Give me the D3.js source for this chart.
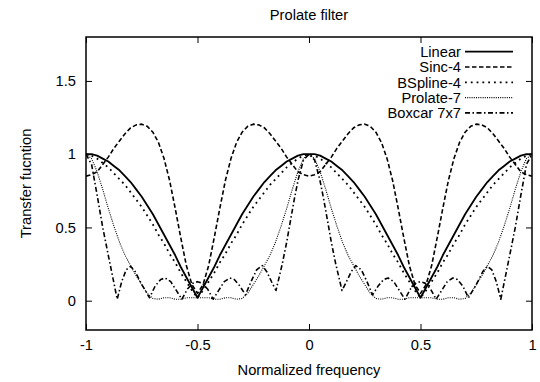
<!DOCTYPE html>
<html>
<head>
<meta charset="utf-8">
<script src="https://cdn.jsdelivr.net/npm/d3@7"></script>
<style>
    body { margin: 0; background: #fff; }
    svg { display: block; font-family: "Liberation Sans", Arial, sans-serif; }
</style>
</head>
<body>
<svg></svg>
<script>
(function() {

    // sample frequencies, step 0.025
    const freq = [
        -1, -0.975, -0.95, -0.925, -0.9, -0.875, -0.85, -0.825, -0.8, -0.775, -0.75, -0.725, -0.7, -0.675, -0.65, -0.625, -0.6, -0.575, -0.55, -0.525, -0.5,
        -0.475, -0.45, -0.425, -0.4, -0.375, -0.35, -0.325, -0.3, -0.275, -0.25, -0.225, -0.2, -0.175, -0.15, -0.125, -0.1, -0.075, -0.05, -0.025, 0,
        0.025, 0.05, 0.075, 0.1, 0.125, 0.15, 0.175, 0.2, 0.225, 0.25, 0.275, 0.3, 0.325, 0.35, 0.375, 0.4, 0.425, 0.45, 0.475, 0.5,
        0.525, 0.55, 0.575, 0.6, 0.625, 0.65, 0.675, 0.7, 0.725, 0.75, 0.775, 0.8, 0.825, 0.85, 0.875, 0.9, 0.925, 0.95, 0.975, 1
    ];

    const linear = [
        1.00, 1.00, 0.99, 0.97, 0.95, 0.92, 0.89, 0.85, 0.81, 0.76, 0.71, 0.65, 0.59, 0.52, 0.45, 0.38, 0.31, 0.23, 0.16, 0.09, 0.02,
        0.09, 0.16, 0.23, 0.31, 0.38, 0.45, 0.52, 0.59, 0.65, 0.71, 0.76, 0.81, 0.85, 0.89, 0.92, 0.95, 0.97, 0.99, 1.00, 1.00,
        1.00, 0.99, 0.97, 0.95, 0.92, 0.89, 0.85, 0.81, 0.76, 0.71, 0.65, 0.59, 0.52, 0.45, 0.38, 0.31, 0.23, 0.16, 0.09, 0.02,
        0.09, 0.16, 0.23, 0.31, 0.38, 0.45, 0.52, 0.59, 0.65, 0.71, 0.76, 0.81, 0.85, 0.89, 0.92, 0.95, 0.97, 0.99, 1.00, 1.00
    ];

    const sinc4 = [
        0.85, 0.86, 0.88, 0.93, 0.98, 1.04, 1.09, 1.14, 1.18, 1.20, 1.205, 1.19, 1.15, 1.08, 0.97, 0.82, 0.63, 0.43, 0.24, 0.11, 0.05,
        0.11, 0.24, 0.43, 0.63, 0.82, 0.97, 1.08, 1.15, 1.19, 1.205, 1.20, 1.18, 1.14, 1.09, 1.04, 0.98, 0.93, 0.88, 0.86, 0.85,
        0.86, 0.88, 0.93, 0.98, 1.04, 1.09, 1.14, 1.18, 1.20, 1.205, 1.19, 1.15, 1.08, 0.97, 0.82, 0.63, 0.43, 0.24, 0.11, 0.05,
        0.11, 0.24, 0.43, 0.63, 0.82, 0.97, 1.08, 1.15, 1.19, 1.205, 1.20, 1.18, 1.14, 1.09, 1.04, 0.98, 0.93, 0.88, 0.86, 0.85
    ];

    const bspline4 = [
        1.00, 0.99, 0.97, 0.94, 0.91, 0.87, 0.83, 0.79, 0.74, 0.69, 0.64, 0.58, 0.52, 0.45, 0.39, 0.32, 0.26, 0.19, 0.13, 0.07, 0.02,
        0.07, 0.13, 0.19, 0.26, 0.32, 0.39, 0.45, 0.52, 0.58, 0.64, 0.69, 0.74, 0.79, 0.83, 0.87, 0.91, 0.94, 0.97, 0.99, 1.00,
        0.99, 0.97, 0.94, 0.91, 0.87, 0.83, 0.79, 0.74, 0.69, 0.64, 0.58, 0.52, 0.45, 0.39, 0.32, 0.26, 0.19, 0.13, 0.07, 0.02,
        0.07, 0.13, 0.19, 0.26, 0.32, 0.39, 0.45, 0.52, 0.58, 0.64, 0.69, 0.74, 0.79, 0.83, 0.87, 0.91, 0.94, 0.97, 0.99, 1.00
    ];

    const prolate7 = [
        1.00, 0.97, 0.88, 0.76, 0.63, 0.51, 0.40, 0.31, 0.24, 0.17, 0.11, 0.05, 0.015, 0.01, 0.02, 0.02, 0.01, 0.01, 0.02, 0.02, 0.02,
        0.02, 0.02, 0.01, 0.01, 0.02, 0.02, 0.01, 0.015, 0.05, 0.11, 0.17, 0.24, 0.31, 0.40, 0.51, 0.63, 0.76, 0.88, 0.97, 1.00,
        0.97, 0.88, 0.76, 0.63, 0.51, 0.40, 0.31, 0.24, 0.17, 0.11, 0.05, 0.015, 0.01, 0.02, 0.02, 0.01, 0.01, 0.02, 0.02, 0.02,
        0.02, 0.02, 0.01, 0.01, 0.02, 0.02, 0.01, 0.015, 0.05, 0.11, 0.17, 0.24, 0.31, 0.40, 0.51, 0.63, 0.76, 0.88, 0.97, 1.00
    ];

    // boxcar has sharp zeros, so it gets its own sample points
    const boxcarFreq = [
        -1, -0.975, -0.95, -0.925, -0.9, -0.88, -0.86, -0.84, -0.82, -0.8, -0.78, -0.75, -0.715, -0.69, -0.665, -0.645, -0.62, -0.595, -0.57, -0.545, -0.52, -0.5,
        -0.48, -0.455, -0.43, -0.405, -0.38, -0.355, -0.335, -0.31, -0.285, -0.26, -0.235, -0.21, -0.19, -0.165, -0.148, -0.12, -0.1, -0.085, -0.065, -0.048, -0.025, 0,
        0.025, 0.048, 0.065, 0.085, 0.1, 0.12, 0.148, 0.165, 0.19, 0.21, 0.235, 0.26, 0.285, 0.31, 0.335, 0.355, 0.38, 0.405, 0.43, 0.455, 0.48, 0.5,
        0.52, 0.545, 0.57, 0.595, 0.62, 0.645, 0.665, 0.69, 0.715, 0.75, 0.78, 0.8, 0.82, 0.84, 0.86, 0.88, 0.9, 0.925, 0.95, 0.975, 1
    ];
    const boxcar7 = [
        1.0, 0.93, 0.72, 0.50, 0.31, 0.16, 0.01, 0.13, 0.21, 0.235, 0.2, 0.11, 0.02, 0.10, 0.145, 0.155, 0.13, 0.07, 0.01, 0.08, 0.12, 0.13,
        0.12, 0.08, 0.01, 0.07, 0.13, 0.155, 0.145, 0.10, 0.04, 0.13, 0.21, 0.24, 0.2, 0.12, 0.07, 0.25, 0.40, 0.53, 0.70, 0.83, 0.96, 1.0,
        0.96, 0.83, 0.70, 0.53, 0.40, 0.25, 0.07, 0.12, 0.2, 0.24, 0.21, 0.13, 0.04, 0.10, 0.145, 0.155, 0.13, 0.07, 0.01, 0.08, 0.12, 0.13,
        0.12, 0.08, 0.01, 0.07, 0.13, 0.155, 0.145, 0.10, 0.02, 0.11, 0.2, 0.235, 0.21, 0.13, 0.01, 0.16, 0.31, 0.50, 0.72, 0.93, 1.0
    ];

    const seriesNames = ['Linear', 'Sinc-4', 'BSpline-4', 'Prolate-7', 'Boxcar 7x7'];
    const xTicks = [-1, -0.5, 0, 0.5, 1];
    const yTicks = [0, 0.5, 1, 1.5];

    const w = 540;
    const h = 382;
    const left = 86, right = 532, top = 37, bottom = 330;
    const fontSize = 14.7;

    const series = [
        { name: seriesNames[0], xs: freq, ys: linear, dash: null, width: 1.8 },
        { name: seriesNames[1], xs: freq, ys: sinc4, dash: '4.5,2.5', width: 1.6 },
        { name: seriesNames[2], xs: freq, ys: bspline4, dash: '1.8,4', width: 1.8 },
        { name: seriesNames[3], xs: freq, ys: prolate7, dash: '1,1.2', width: 1.1 },
        { name: seriesNames[4], xs: boxcarFreq, ys: boxcar7, dash: '5,2.5,1.5,2.5', width: 1.6 }
    ];

    // plain hyphen for negatives, like gnuplot
    const fmt = d => String(d);

    const x = d3.scaleLinear().domain([-1, 1]).range([left, right]);
    const y = d3.scaleLinear().domain([-0.2, 1.8]).range([bottom, top]);

    const svg = d3.select('svg')
        .attr('width', w)
        .attr('height', h);

    svg.append('clipPath')
        .attr('id', 'plot-clip')
        .append('rect')
        .attr('x', left)
        .attr('y', top)
        .attr('width', right - left)
        .attr('height', bottom - top);

    // axes with inward ticks, mirrored on the opposite side
    const tickLen = 6;
    svg.append('g')
        .attr('transform', `translate(0, ${ bottom })`)
        .call(d3.axisBottom(x).tickValues(xTicks).tickSize(-tickLen).tickPadding(10).tickFormat(fmt))
        .call(g => g.select('.domain').remove());
    svg.append('g')
        .attr('transform', `translate(0, ${ top })`)
        .call(d3.axisTop(x).tickValues(xTicks).tickSize(-tickLen).tickFormat(''))
        .call(g => g.select('.domain').remove());
    svg.append('g')
        .attr('transform', `translate(${ left }, 0)`)
        .call(d3.axisLeft(y).tickValues(yTicks).tickSize(-tickLen).tickPadding(10).tickFormat(fmt))
        .call(g => g.select('.domain').remove());
    svg.append('g')
        .attr('transform', `translate(${ right }, 0)`)
        .call(d3.axisRight(y).tickValues(yTicks).tickSize(-tickLen).tickFormat(''))
        .call(g => g.select('.domain').remove());

    svg.selectAll('.tick line').attr('stroke', '#000').attr('stroke-width', 1);
    svg.selectAll('.tick text')
        .attr('fill', '#000')
        .style('font-family', '"Liberation Sans", Arial, sans-serif')
        .style('font-size', fontSize + 'px');

    const line = d3.line()
        .x(d => x(d[0]))
        .y(d => y(d[1]));

    const curves = svg.append('g').attr('clip-path', 'url(#plot-clip)');
    curves.selectAll('path')
        .data(series)
        .enter()
        .append('path')
        .attr('d', s => line(s.xs.map((v, i) => [v, s.ys[i]])))
        .attr('fill', 'none')
        .attr('stroke', '#000')
        .attr('stroke-width', s => s.width)
        .attr('stroke-dasharray', s => s.dash)
        .attr('stroke-linejoin', 'round');

    // frame
    svg.append('rect')
        .attr('x', left)
        .attr('y', top)
        .attr('width', right - left)
        .attr('height', bottom - top)
        .attr('fill', 'none')
        .attr('stroke', '#000')
        .attr('stroke-width', 1.5);

    // legend
    const legend = svg.append('g')
        .selectAll('g')
        .data(series)
        .enter()
        .append('g')
        .attr('transform', (d, i) => `translate(0, ${ 51.7 + i * 15.3 })`);

    legend.append('text')
        .attr('x', 461)
        .attr('y', 5.2)
        .attr('text-anchor', 'end')
        .style('font-size', fontSize + 'px')
        .text(d => d.name);

    legend.append('line')
        .attr('x1', 465)
        .attr('x2', 513)
        .attr('stroke', '#000')
        .attr('stroke-width', d => d.width)
        .attr('stroke-dasharray', d => d.dash);

    // titles
    svg.append('text')
        .attr('x', 309)
        .attr('y', 20)
        .attr('text-anchor', 'middle')
        .style('font-size', fontSize + 'px')
        .text('Prolate filter');

    svg.append('text')
        .attr('x', 309)
        .attr('y', 375)
        .attr('text-anchor', 'middle')
        .style('font-size', fontSize + 'px')
        .text('Normalized frequency');

    svg.append('text')
        .attr('transform', `translate(31, ${ (top + bottom) / 2 }) rotate(-90)`)
        .attr('text-anchor', 'middle')
        .style('font-size', fontSize + 'px')
        .text('Transfer fucntion');

})();
</script>
</body>
</html>
